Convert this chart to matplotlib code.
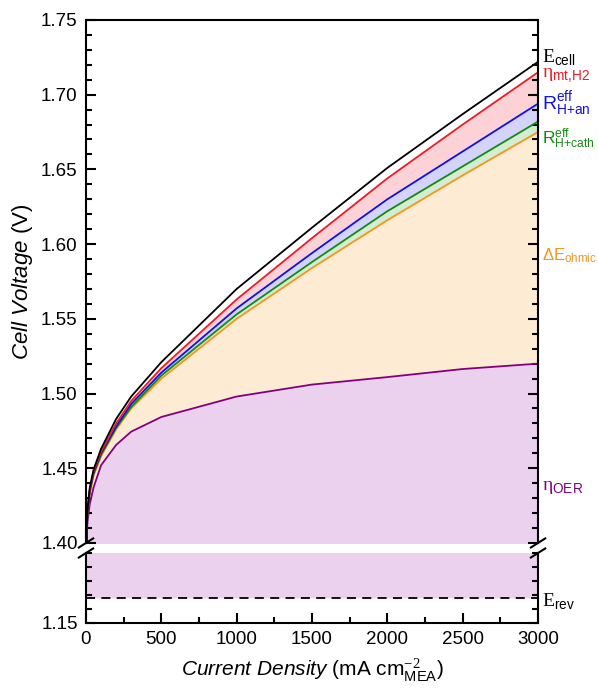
import matplotlib
matplotlib.use("Agg")
import matplotlib.pyplot as plt
from matplotlib.ticker import MultipleLocator

plt.rcParams['font.family'] = ['Liberation Sans', 'DejaVu Sans']
plt.rcParams['mathtext.fontset'] = 'custom'
plt.rcParams['mathtext.rm'] = 'Liberation Serif'
plt.rcParams['mathtext.sf'] = 'Liberation Sans'
plt.rcParams['mathtext.it'] = 'Liberation Sans:italic'

# current density (mA cm-2) and voltage breakdown (V)
j = [0, 5, 10, 25, 50, 100, 200, 300, 500, 1000, 1500, 2000, 2500, 3000]
e_rev = 1.168
oer = [1.168, 1.405, 1.414, 1.426, 1.437, 1.452, 1.4656, 1.4745, 1.4843, 1.498, 1.506, 1.511, 1.5164, 1.520]
ohmic = [1.168, 1.410, 1.420, 1.433, 1.445, 1.458, 1.476, 1.490, 1.510, 1.550, 1.584, 1.616, 1.646, 1.675]
r_cath = [1.168, 1.410, 1.420, 1.434, 1.446, 1.459, 1.477, 1.491, 1.512, 1.553, 1.588, 1.622, 1.652, 1.682]
r_an = [1.168, 1.411, 1.421, 1.435, 1.447, 1.460, 1.478, 1.493, 1.514, 1.557, 1.594, 1.630, 1.662, 1.694]
mt_h2 = [1.168, 1.412, 1.422, 1.436, 1.448, 1.461, 1.480, 1.495, 1.517, 1.563, 1.604, 1.644, 1.680, 1.715]
e_cell = [1.168, 1.412, 1.422, 1.437, 1.449, 1.463, 1.483, 1.498, 1.521, 1.570, 1.611, 1.651, 1.687, 1.722]

fig = plt.figure(figsize=(5.98, 6.88), dpi=100)
ax = fig.add_axes([0.1438, 0.2108, 0.7559, 0.7602])
ax2 = fig.add_axes([0.1438, 0.0945, 0.7559, 0.1017])

for a in (ax, ax2):
    a.fill_between(j, e_rev, oer, color='#ecd1ef', lw=0)
    a.fill_between(j, oer, ohmic, color='#fdebd3', lw=0)
    a.fill_between(j, ohmic, r_cath, color='#d3edd3', lw=0)
    a.fill_between(j, r_cath, r_an, color='#d3d3fb', lw=0)
    a.fill_between(j, r_an, mt_h2, color='#fcd2d6', lw=0)
    a.plot(j, oer, color='#800080', lw=1.3)
    a.plot(j, ohmic, color='#f7941d', lw=1.3)
    a.plot(j, r_cath, color='#138a13', lw=1.3)
    a.plot(j, r_an, color='#1010e6', lw=1.3)
    a.plot(j, mt_h2, color='#ee1c24', lw=1.3)
    a.plot(j, e_cell, color='black', lw=1.3)
    a.axhline(e_rev, color='black', lw=1.3, ls=(0, (5, 3.5)))
    a.set_xlim(0, 3000)
    for s in a.spines.values():
        s.set_linewidth(1.5)
    a.tick_params(which='both', direction='in', right=True, top=False, width=1.5,
                  labelsize=13.5, pad=6)
    a.tick_params(which='major', length=7)
    a.tick_params(which='minor', length=4)
    a.xaxis.set_major_locator(MultipleLocator(500))
    a.xaxis.set_minor_locator(MultipleLocator(250))
    a.yaxis.set_minor_locator(MultipleLocator(0.01))

ax.set_ylim(1.40, 1.75)
ax.yaxis.set_major_locator(MultipleLocator(0.05))
ax.yaxis.set_major_formatter(plt.FormatStrFormatter('%.2f'))
ax.spines['bottom'].set_visible(False)
ax.tick_params(axis='x', which='both', bottom=False, labelbottom=False)

ax2.set_ylim(1.15, 1.20)
ax2.set_yticks([1.15])
ax2.yaxis.set_major_formatter(plt.FormatStrFormatter('%.2f'))
ax2.spines['top'].set_visible(False)

ax.set_ylabel(r'$\it{Cell\ Voltage}$ (V)', fontsize=16, labelpad=4)
ax2.set_xlabel(r'$\it{Current\ Density}$ (mA cm$^{-2}_{\mathsf{MEA}}$)', fontsize=15, labelpad=6)

# break marks on both side spines
d = 0.012
kw = dict(transform=fig.transFigure, color='black', lw=1.5, clip_on=False)
for xf in (0.1438, 0.8997):
    for yf in (0.2108, 0.1962):
        fig.add_artist(plt.Line2D([xf - d, xf + d], [yf - d * 0.55, yf + d * 0.55], **kw))

# curve labels on the right
labels = [
    (r'$\mathrm{E}_{\mathsf{cell}}$', 'black', 57, 14),
    (r'$\mathrm{\eta}_{\mathsf{mt{,}H2}}$', '#ee1c24', 75, 14),
    (r'$\mathsf{R}^{\mathsf{eff}}_{\mathsf{H{+}an}}$', '#1010e6', 104, 14),
    (r'$\mathsf{R}^{\mathsf{eff}}_{\mathsf{H{+}cath}}$', '#138a13', 139, 12.5),
    (r'$\mathsf{\Delta{}E}_{\mathsf{ohmic}}$', '#f7941d', 256, 12),
    (r'$\mathrm{\eta}_{\mathsf{OER}}$', '#800080', 488, 14),
    (r'$\mathrm{E}_{\mathsf{rev}}$', 'black', 601, 14),
]
for txt, col, py, fs in labels:
    fig.text(542 / 598, 1 - py / 688, txt, color=col, fontsize=fs, va='center', ha='left')

fig.savefig('out.png', dpi=100)
